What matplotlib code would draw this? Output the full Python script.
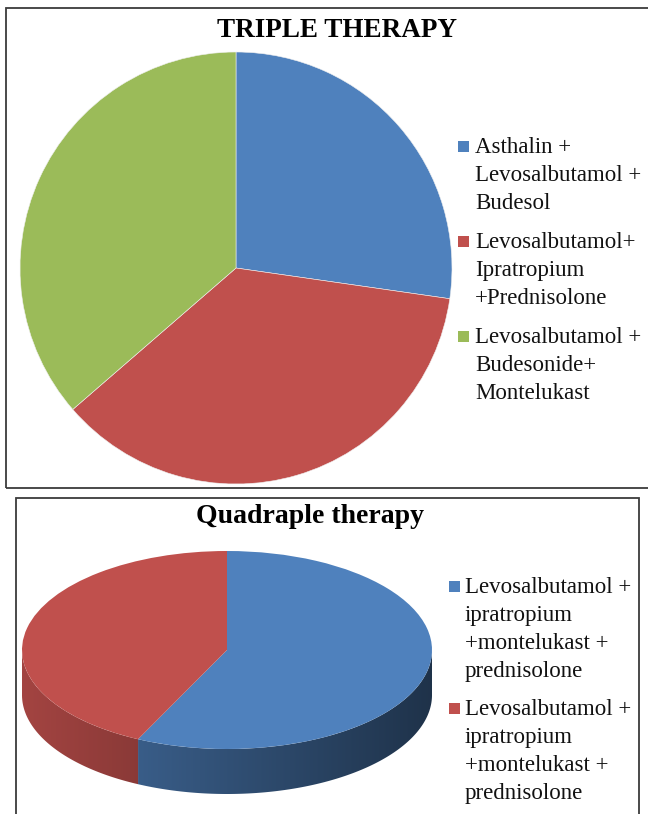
import numpy as np
import matplotlib
matplotlib.use("Agg")
import matplotlib.pyplot as plt
from matplotlib.colors import to_rgb
from matplotlib.patches import Rectangle, Polygon

W, H = 648, 814

triple_title = "TRIPLE THERAPY"
triple_labels = ["Asthalin +\nLevosalbutamol +\nBudesol",
                 "Levosalbutamol+\nIpratropium\n+Prednisolone",
                 "Levosalbutamol +\nBudesonide+\nMontelukast"]
triple_values = [3, 4, 4]
triple_colors = ["#4F81BD", "#C0504D", "#9BBB59"]

quad_title = "Quadraple therapy"
quad_labels = ["Levosalbutamol +\nipratropium\n+montelukast +\nprednisolone",
               "Levosalbutamol +\nipratropium\n+montelukast +\nprednisolone"]
quad_values = [4, 3]
quad_colors = ["#4F81BD", "#C0504D"]

plt.rcParams['font.family'] = ['Liberation Serif', 'DejaVu Serif']


def fx(px):
    return px / W


def fy(py):
    return 1 - py / H


def box(fig, x0, y0, x1, y1):
    fig.patches.append(Rectangle((fx(x0), fy(y1)), fx(x1) - fx(x0), fy(y0) - fy(y1),
                                 transform=fig.transFigure, fill=False,
                                 edgecolor='#3c3c3c', linewidth=1.3, zorder=5))


def legend(fig, labels, colors, x_box, x_text, y_base, line_h, gap, size):
    yb = y_base
    for lab, col in zip(labels, colors):
        fig.patches.append(Rectangle((fx(x_box), fy(yb - 1)), 11 / W, 11 / H,
                                     transform=fig.transFigure, facecolor=col,
                                     edgecolor='none'))
        lines = lab.split("\n")
        for j, line in enumerate(lines):
            fig.text(fx(x_text), fy(yb + j * line_h), line, fontsize=size,
                     ha='left', va='baseline', color='#111111')
        yb += len(lines) * line_h + gap


fig = plt.figure(figsize=(W / 100, H / 100), dpi=100)

# ---- triple therapy (flat pie)
box(fig, 6, 8, 700, 488)
fig.text(fx(337), fy(37), triple_title, fontsize=19.5, fontweight='bold',
         ha='center', va='baseline')

ax1 = fig.add_axes([fx(20), fy(484), 432 / W, 432 / H])
wedges, _ = ax1.pie(triple_values, colors=triple_colors, startangle=90,
                    counterclock=False, radius=1,
                    wedgeprops=dict(edgecolor='#f0f0f0', linewidth=0.4))
for w in wedges:
    w.set_clip_on(False)
ax1.set_xlim(-1, 1)
ax1.set_ylim(-1, 1)
ax1.set_aspect('auto')
ax1.axis('off')

legend(fig, triple_labels, triple_colors, 458, 475, 153, 28, 11, 16.5)

# ---- quadraple therapy (3d-look pie)
box(fig, 16, 498, 639, 830)
fig.text(fx(310), fy(523), quad_title, fontsize=20, fontweight='bold',
         ha='center', va='baseline')

a_px, b_px, depth_px = 205, 99, 45
cx, cy = 227, 650
depth = depth_px / b_px
ax2 = fig.add_axes([fx(cx - a_px), fy(cy + b_px + depth_px), 2 * a_px / W,
                    (2 * b_px + depth_px) / H])
wedges2, _ = ax2.pie(quad_values, colors=quad_colors, startangle=90,
                     counterclock=False, radius=1,
                     wedgeprops=dict(edgecolor='none'))
for w in wedges2:
    w.set_clip_on(False)
    w.set_zorder(3)

# side wall of the pie: horizontal gradient clipped to the visible front part
xs = np.linspace(-1, 1, 400)
shade = 0.62 - 0.23 * xs
for w, col in zip(wedges2, quad_colors):
    t1, t2 = w.theta1 % 360, w.theta2 % 360
    if t2 <= t1:
        t2 += 360
    base = np.array(to_rgb(col))
    grad = np.clip(shade[None, :, None] * base[None, None, :], 0, 1)
    for lo, hi in [(180, 360), (540, 720)]:
        s, e = max(t1, lo), min(t2, hi)
        if e <= s:
            continue
        angs = np.radians(np.linspace(s, e, 200))
        top = np.column_stack([np.cos(angs), np.sin(angs)])
        bot = top[::-1] - [0, depth]
        poly = Polygon(np.vstack([top, bot]), closed=True, facecolor='none',
                       edgecolor='none')
        ax2.add_patch(poly)
        im = ax2.imshow(grad, extent=(-1, 1, -1 - depth, 1), aspect='auto',
                        interpolation='bilinear', zorder=2)
        im.set_clip_path(poly)

ax2.set_xlim(-1, 1)
ax2.set_ylim(-1 - depth, 1)
ax2.set_aspect('auto')
ax2.axis('off')

legend(fig, quad_labels, quad_colors, 449, 465, 593, 28, 10, 16.5)

fig.savefig("out.png", dpi=100, facecolor='white')
